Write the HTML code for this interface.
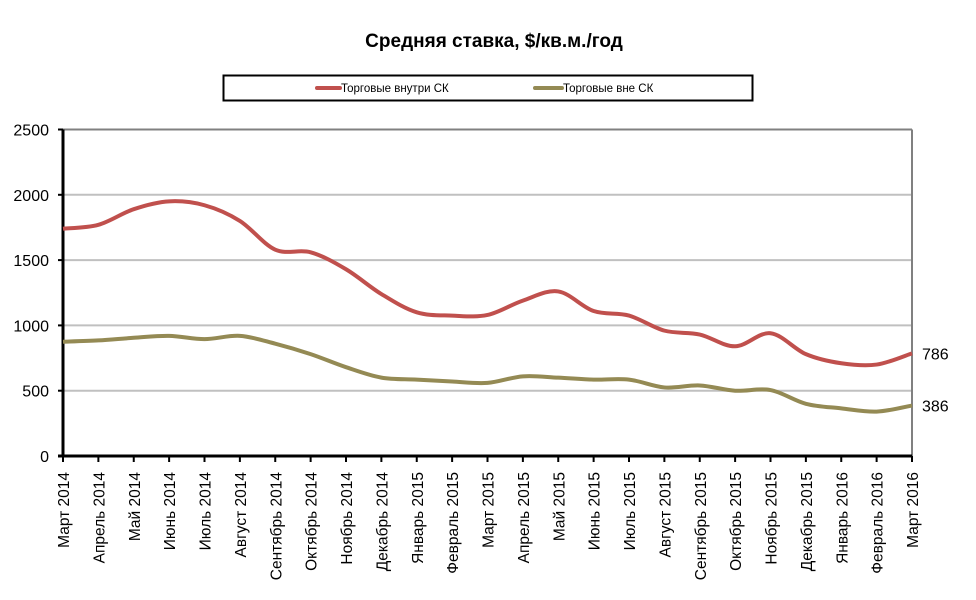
<!DOCTYPE html>
<html><head><meta charset="utf-8"><style>
body{margin:0;background:#fff;}
svg{display:block;font-family:"Liberation Sans",sans-serif;}
</style></head><body>
<svg id="chart" width="976" height="600" viewBox="0 0 976 600">
<rect width="976" height="600" fill="#fff"/>
<text x="494" y="47" text-anchor="middle" font-size="19" font-weight="bold">Средняя ставка, $/кв.м./год</text>
<g>
<rect x="223.5" y="75.5" width="529" height="25" fill="#fff" stroke="#000" stroke-width="2"/>
<line x1="317" y1="88" x2="340" y2="88" stroke="#c0504d" stroke-width="4" stroke-linecap="round"/>
<text x="341" y="92" font-size="11.5">Торговые внутри СК</text>
<line x1="535" y1="88" x2="562" y2="88" stroke="#948a54" stroke-width="4" stroke-linecap="round"/>
<text x="563" y="92" font-size="11.5">Торговые вне СК</text>
</g>
<g id="grid"></g>
<g id="axes"></g>
<g id="series"></g>
</svg>
<script>
const months = ["Март 2014","Апрель 2014","Май 2014","Июнь 2014","Июль 2014","Август 2014","Сентябрь 2014","Октябрь 2014","Ноябрь 2014","Декабрь 2014","Январь 2015","Февраль 2015","Март 2015","Апрель 2015","Май 2015","Июнь 2015","Июль 2015","Август 2015","Сентябрь 2015","Октябрь 2015","Ноябрь 2015","Декабрь 2015","Январь 2016","Февраль 2016","Март 2016"];
const insideValues = [1740,1770,1890,1950,1920,1800,1580,1560,1430,1240,1100,1075,1080,1190,1260,1110,1075,960,930,840,940,780,710,700,786];
const outsideValues = [875,885,905,920,895,920,860,780,680,600,585,570,560,610,600,585,585,525,540,500,505,400,365,340,386];
const yTicks = [0,500,1000,1500,2000,2500];

const NS="http://www.w3.org/2000/svg";
const X0=63,X1=912,Y0=456,Y1=129.5,YMAX=2500;
const xs=i=>X0+(X1-X0)*i/(months.length-1);
const ys=v=>Y0-(Y0-Y1)*v/YMAX;
function mk(tag,attrs,parent){const e=document.createElementNS(NS,tag);for(const k in attrs)e.setAttribute(k,attrs[k]);parent.appendChild(e);return e;}
const grid=document.getElementById('grid'),axes=document.getElementById('axes'),series=document.getElementById('series');
yTicks.forEach(t=>{
  if(t>0){const g=mk('line',{x1:X0,x2:X1,y1:ys(t),y2:ys(t),stroke:t===2500?'#808080':'#c0c0c0','stroke-width':2},grid);
  
  }
  const tk=mk('line',{x1:X0-5,x2:X0,y1:ys(t),y2:ys(t),stroke:'#000','stroke-width':2},axes);
  
  
  const tx=mk('text',{x:X0-14,y:ys(t)+6,'text-anchor':'end','font-size':16},axes);
  tx.textContent=t;
  
  
});
const rb=mk('line',{x1:X1,x2:X1,y1:Y1,y2:Y0,stroke:'#808080','stroke-width':2},axes);


const ya=mk('line',{x1:X0,x2:X0,y1:Y1,y2:Y0+1,stroke:'#000','stroke-width':3},axes);


const xa=mk('line',{x1:X0-5,x2:X1,y1:Y0,y2:Y0,stroke:'#000','stroke-width':3},axes);


months.forEach((m,i)=>{
  const x=xs(i);
  const tk=mk('line',{x1:x,x2:x,y1:Y0,y2:Y0+6,stroke:'#000','stroke-width':2},axes);
  
  
  const tx=mk('text',{x:0,y:0,'text-anchor':'end','font-size':15.5,transform:`translate(${x+6},472) rotate(-90)`},axes);
  tx.textContent=m;
  
  
});
function smooth(vals){
  const p=vals.map((v,i)=>[xs(i),ys(v)]);
  let d=`M${p[0][0]},${p[0][1]}`;
  for(let i=0;i<p.length-1;i++){
    const a=p[Math.max(0,i-1)],b=p[i],c=p[i+1],e=p[Math.min(p.length-1,i+2)];
    const c1=[b[0]+(c[0]-a[0])/6,b[1]+(c[1]-a[1])/6],c2=[c[0]-(e[0]-b[0])/6,c[1]-(e[1]-b[1])/6];
    d+=` C${c1[0]},${c1[1]} ${c2[0]},${c2[1]} ${c[0]},${c[1]}`;
  }
  return d;
}
[[insideValues,'#c0504d','series-inside'],[outsideValues,'#948a54','series-outside']].forEach(([vals,col,name])=>{
  const p=mk('path',{d:smooth(vals),fill:'none',stroke:col,'stroke-width':4,'stroke-linejoin':'round'},series);
  
  
  const last=vals[vals.length-1];
  const t=mk('text',{x:922,y:ys(last)+6,'font-size':16},series);
  t.textContent=last;
  
  
});
</script>
</body></html>
